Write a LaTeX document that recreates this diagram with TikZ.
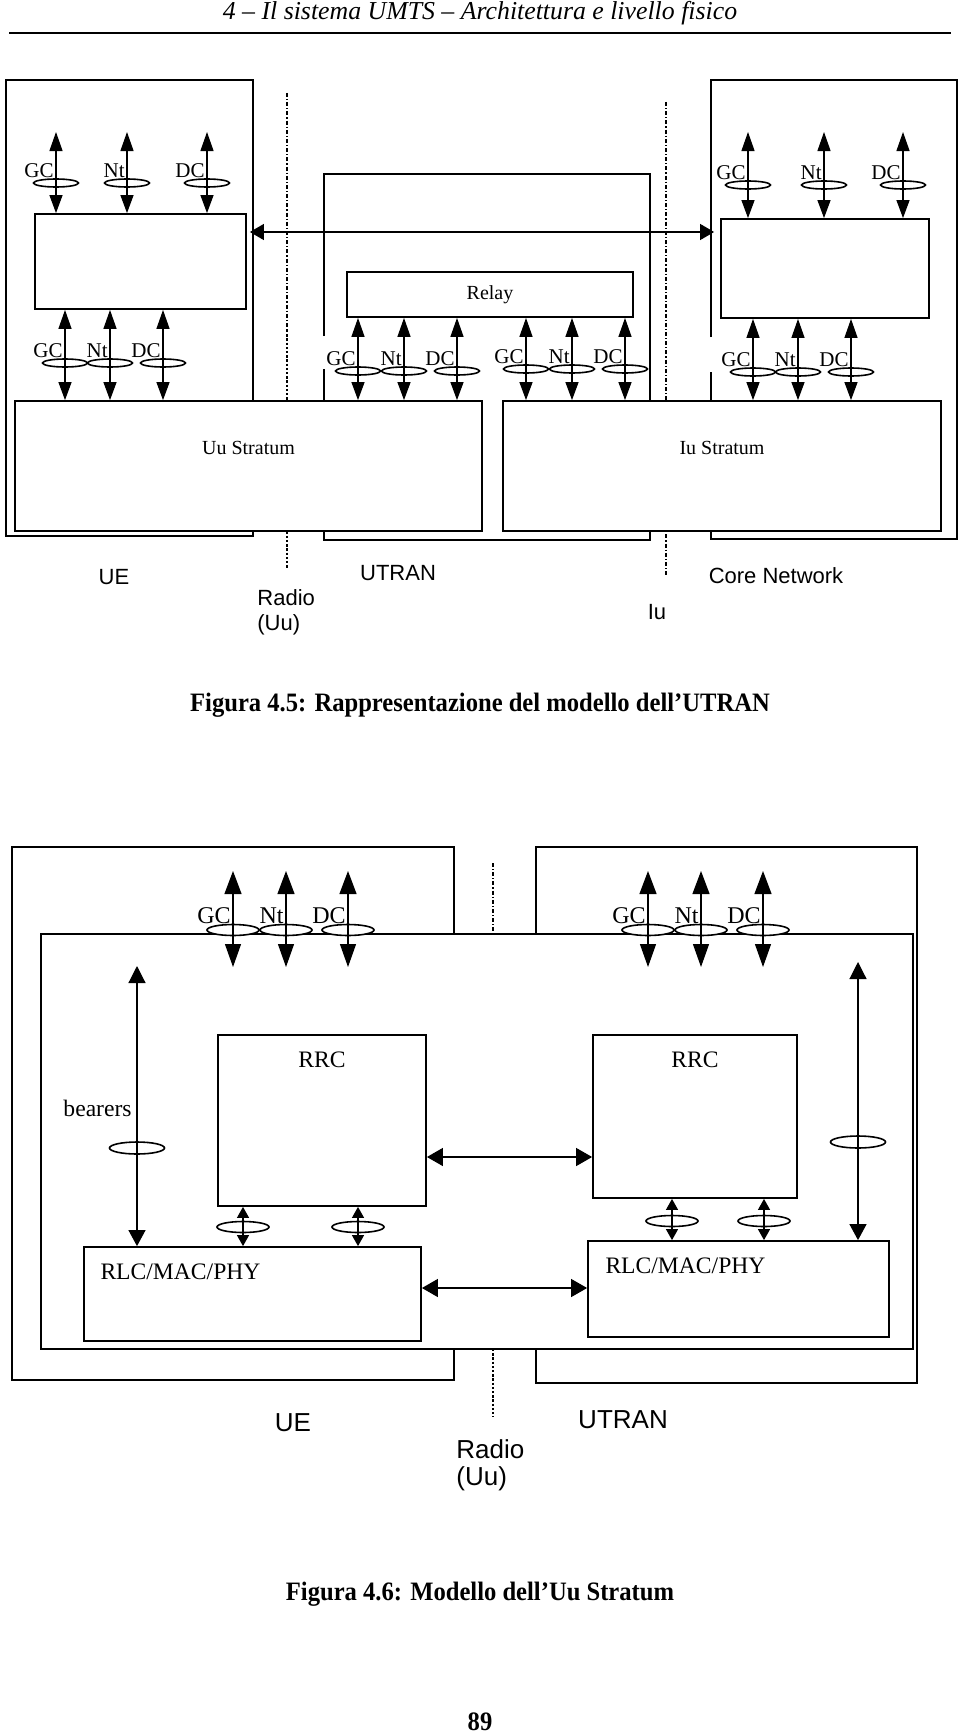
\documentclass[tikz,border=0pt]{standalone}
\usepackage{fontspec}
\setmainfont{Liberation Serif}
\setsansfont{Liberation Sans}
\usetikzlibrary{arrows.meta,shapes.geometric,fit,positioning}

\tikzset{
  box/.style={draw, line width=0.9pt, fill=white, inner sep=0pt},
  frame/.style={draw, line width=0.9pt},
  thindot/.style={line width=0.6pt, dash pattern=on 2pt off 1pt on 0.6pt off 1pt},
  thickdot/.style={line width=1.3pt, dash pattern=on 1.2pt off 0.9pt},
  ringA/.style={ellipse, draw, fill=white, line width=0.8pt, minimum width=22.5pt, minimum height=4pt, inner sep=0pt},
  ringB/.style={ringA, minimum width=26pt, minimum height=5.5pt},
  ringC/.style={ringB},
  ringD/.style={ringB, minimum width=27.5pt, minimum height=6pt},
  chanA/.style={line width=0.6pt, arrows={Triangle[length=9.5pt,width=6.5pt]-Triangle[length=9pt,width=6.5pt]}},
  chanB/.style={line width=0.6pt, arrows={Triangle[length=11.5pt,width=8.5pt]-Triangle[length=11.5pt,width=8pt]}},
  chanC/.style={line width=0.6pt, arrows={Triangle[length=5.5pt,width=6pt]-Triangle[length=5.5pt,width=6pt]}},
  chanD/.style={line width=0.6pt, arrows={Triangle[length=8.5pt,width=8.5pt]-Triangle[length=8pt,width=8.5pt]}},
  peer/.style={line width=0.6pt, arrows={Triangle[length=8pt,width=9pt]-Triangle[length=8pt,width=9pt]}},
  lblA/.style={font=\fontsize{10.5}{12}\selectfont, inner sep=0pt, anchor=base east, xshift=-1pt, yshift=3pt},
  lblB/.style={font=\fontsize{12}{14}\selectfont, inner sep=0pt, anchor=base east, xshift=-1pt, yshift=3.5pt},
  txtA/.style={font=\fontsize{10}{12}\selectfont, inner sep=0pt},
  txtB/.style={font=\fontsize{11.8}{14}\selectfont, inner sep=0pt},
  sansA/.style={font=\sffamily\fontsize{11}{13}\selectfont, inner sep=0pt},
  sansB/.style={font=\sffamily\fontsize{13}{15}\selectfont, inner sep=0pt},
  figcap/.style={font=\bfseries\fontsize{12.3}{15}\selectfont, inner sep=0pt, yscale=1.08}
}

% ellipse on a channel, double arrow through it
\newcommand{\tap}[6]{%
  \coordinate (#1) at (#2,#5);
  \node[ring#6] (#1e) at (#1) {};
  \draw[chan#6] (#1 |- #3) -- (#1 |- #4);
}
% same, with its name written left of it
\newcommand{\sap}[7]{%
  \node[lbl#7] (#1l) at (#2,#5) {#6};
  \tap{#1}{#2}{#3}{#4}{#5}{#7}
}

\begin{document}
\begin{tikzpicture}[x=0.5pt,y=-0.5pt]
\useasboundingbox (0,0) rectangle (960,1734);
\fill[white] (0,0) rectangle (960,1734);

% page head
\node[font=\itshape\fontsize{12.9}{15}\selectfont, inner sep=0pt] (head) at (480,13) {4 -- Il sistema UMTS -- Architettura e livello fisico};
\coordinate (ruleL) at (9,33);
\coordinate (ruleR) at (951,33);
\draw[line width=1.3pt] (ruleL) -- (ruleR);

%%% Figura 4.5
\draw[frame] (6,80) rectangle (253,536);
\draw[frame] (324,336) -- (324,174) -- (650,174) -- (650,540) -- (324,540) -- (324,369);
\draw[frame] (711,337) -- (711,80) -- (957,80) -- (957,539) -- (711,539) -- (711,372);
\draw[thindot] (287,93) -- (287,330);
\draw[thickdot] (287,330) -- (287,569);
\draw[thindot] (666,102) -- (666,577);

\node[box, fit={(35,214) (246,309)}] (ueup) {};
\node[box, fit={(721,219) (929,318)}] (coreup) {};
\node[box, fit={(347,272) (633,317)}] (relay) {};
\node[box, fit={(15,401) (482,531)}] (uus) {};
\node[box, fit={(503,401) (941,531)}] (ius) {};
\node[txtA] (relayt) at (relay) {Relay};
\node[txtA] (uust) at ([yshift=-24pt]uus.north) {Uu Stratum};
\node[txtA] (iust) at ([yshift=-24pt]ius.north) {Iu Stratum};

\coordinate (hU) at (0,232);
\draw[line width=0.6pt, arrows={Triangle[length=7pt,width=8pt]-Triangle[length=7pt,width=8pt]}, shorten <=1.5pt, shorten >=3pt] (ueup.east |- hU) -- (coreup.west |- hU);

\coordinate (tA) at (0,132);
\sap{ue1}{56}{tA}{ueup.north}{183}{GC}{A}
\sap{ue2}{127}{tA}{ueup.north}{183}{Nt}{A}
\sap{ue3}{207}{tA}{ueup.north}{183}{DC}{A}
\sap{cn1}{748}{tA}{coreup.north}{185}{GC}{A}
\sap{cn2}{824}{tA}{coreup.north}{185}{Nt}{A}
\sap{cn3}{903}{tA}{coreup.north}{185}{DC}{A}

\sap{ue4}{65}{ueup.south}{uus.north}{363}{GC}{A}
\sap{ue5}{110}{ueup.south}{uus.north}{363}{Nt}{A}
\sap{ue6}{163}{ueup.south}{uus.north}{363}{DC}{A}
\sap{rl1}{358}{relay.south}{uus.north}{371}{GC}{A}
\sap{rl2}{404}{relay.south}{uus.north}{371}{Nt}{A}
\sap{rl3}{457}{relay.south}{uus.north}{371}{DC}{A}
\sap{rl4}{526}{relay.south}{ius.north}{369}{GC}{A}
\sap{rl5}{572}{relay.south}{ius.north}{369}{Nt}{A}
\sap{rl6}{625}{relay.south}{ius.north}{369}{DC}{A}
\sap{cn4}{753}{coreup.south}{ius.north}{372}{GC}{A}
\sap{cn5}{798}{coreup.south}{ius.north}{372}{Nt}{A}
\sap{cn6}{851}{coreup.south}{ius.north}{372}{DC}{A}

\node[sansA] (ueA) at (114,577) {UE};
\node[sansA] (utranA) at (398,573) {UTRAN};
\node[sansA] (cnA) at (776,576) {Core Network};
\node[sansA, anchor=west] (radA) at (257,598) {Radio};
\node[sansA, anchor=west] (uuA) at (257,625) {(Uu)};
\node[sansA] (iuA) at (657,612) {Iu};
\node[figcap] (cap5) at (480,705) {Figura 4.5: Rappresentazione del modello dell’UTRAN};

%%% Figura 4.6
\draw[frame] (12,847) rectangle (454,1380);
\draw[frame] (536,847) rectangle (917,1383);
\draw[thindot] (493,863) -- (493,934);
\draw[thickdot] (493,1349) -- (493,1417);

\node[box, fit={(41,934) (913,1349)}] (strat) {};
\node[box, fit={(218,1035) (426,1206)}] (rrcL) {};
\node[box, fit={(593,1035) (797,1198)}] (rrcR) {};
\node[box, fit={(84,1247) (421,1341)}] (rlcL) {};
\node[box, fit={(588,1241) (889,1337)}] (rlcR) {};
\node[txtB, below=8.5pt of rrcL.north] (rrcLt) {RRC};
\node[txtB, below=8.5pt of rrcR.north] (rrcRt) {RRC};
\node[txtB, anchor=west] (rlcLt) at ([xshift=8.5pt,yshift=-13pt]rlcL.north west) {RLC/MAC/PHY};
\node[txtB, anchor=west] (rlcRt) at ([xshift=9pt,yshift=-13pt]rlcR.north west) {RLC/MAC/PHY};

\coordinate (tB) at (0,871);
\coordinate (bB) at (0,967);
\sap{u1}{233}{tB}{bB}{930}{GC}{B}
\sap{u2}{286}{tB}{bB}{930}{Nt}{B}
\sap{u3}{348}{tB}{bB}{930}{DC}{B}
\sap{t1}{648}{tB}{bB}{930}{GC}{B}
\sap{t2}{701}{tB}{bB}{930}{Nt}{B}
\sap{t3}{763}{tB}{bB}{930}{DC}{B}

\tap{s1}{243}{rrcL.south}{rlcL.north}{1227}{C}
\tap{s2}{358}{rrcL.south}{rlcL.north}{1227}{C}
\tap{s3}{672}{rrcR.south}{rlcR.north}{1221}{C}
\tap{s4}{764}{rrcR.south}{rlcR.north}{1221}{C}

\coordinate (bTL) at (0,966);
\coordinate (bTR) at (0,962);
\tap{bL}{137}{bTL}{rlcL.north}{1148}{D}
\tap{bR}{858}{bTR}{rlcR.north}{1142}{D}
\node[txtB, anchor=base east] (bearl) at (132,1116) {bearers};

\coordinate (hR) at (0,1157);
\coordinate (hM) at (0,1288);
\draw[peer] (rrcL.east |- hR) -- (rrcR.west |- hR);
\draw[peer] (rlcL.east |- hM) -- (rlcR.west |- hM);

\node[sansB] (ueB) at (293,1423) {UE};
\node[sansB] (utranB) at (623,1420) {UTRAN};
\node[sansB, anchor=west] (radB) at (456,1449) {Radio};
\node[sansB, anchor=west] (uuB) at (456,1479) {(Uu)};
\node[figcap] (cap6) at (480,1594) {Figura 4.6: Modello dell’Uu Stratum};
\node[figcap] (pnum) at (480,1722) {89};
\end{tikzpicture}
\end{document}
